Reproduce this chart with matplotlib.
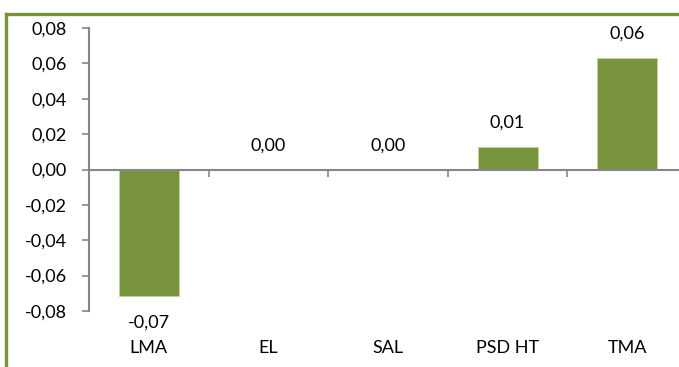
import matplotlib.pyplot as plt
from matplotlib.lines import Line2D
from matplotlib.transforms import blended_transform_factory

categories = ["LMA", "EL", "SAL", "PSD HT", "TMA"]
values = [-0.0718, 0.0, 0.0, 0.0128, 0.0633]
y_ticks = [-0.08, -0.06, -0.04, -0.02, 0.0, 0.02, 0.04, 0.06, 0.08]

green = "#77933C"
grey = "#868686"

plt.rcParams["font.family"] = ["Lato", "DejaVu Sans"]
fs = 13

W, H = 679, 367
fig = plt.figure(figsize=(W / 100, H / 100), dpi=100)

# plot area in pixel terms, right edge runs past the image
left, right, top, bottom = 89, 687, 28, 311
ax = fig.add_axes([left / W, 1 - bottom / H, (right - left) / W, (bottom - top) / H])

x = list(range(len(categories)))
ax.bar(x, values, width=0.5, color=green, edgecolor="#C4D3A4", linewidth=0.6, zorder=2)

ax.set_xlim(-0.5, len(categories) - 0.5)
ax.set_ylim(-0.08, 0.08)
ax.set_yticks(y_ticks)
ax.set_yticklabels([f"{t:.2f}".replace(".", ",") for t in y_ticks], fontsize=fs)

for s in ("top", "right"):
    ax.spines[s].set_visible(False)
ax.spines["left"].set_color(grey)
ax.spines["left"].set_linewidth(1.5)
ax.spines["bottom"].set_position(("data", 0))
ax.spines["bottom"].set_color(grey)
ax.spines["bottom"].set_linewidth(1.5)

ax.tick_params(axis="y", direction="out", length=5, width=1.2, color=grey, pad=11)
ax.set_xticks([i + 0.5 for i in x[:-1]] + [-0.5])
ax.set_xticklabels([])
ax.tick_params(axis="x", direction="out", length=5, width=1.2, color=grey)

# value labels
for i, v in enumerate(values):
    label = f"{v:.2f}".replace(".", ",")
    off = -26 if v < 0 else 24
    ax.annotate(label, (i, v), xytext=(0, off * 0.72), textcoords="offset points",
                ha="center", va="center", fontsize=fs)

# category names sit at the bottom of the chart
trans = blended_transform_factory(ax.transData, fig.transFigure)
for i, c in enumerate(categories):
    ax.text(i, 1 - 348 / H, c, transform=trans, ha="center", va="center", fontsize=fs)

# green chart frame
fig.add_artist(Line2D([5.5 / W, 5.5 / W], [0, 1 - 13.5 / H], transform=fig.transFigure,
                      color=green, linewidth=2.4))
fig.add_artist(Line2D([5.5 / W, 1], [1 - 13.5 / H, 1 - 13.5 / H], transform=fig.transFigure,
                      color=green, linewidth=2.4))

fig.savefig("out.png", dpi=100)
